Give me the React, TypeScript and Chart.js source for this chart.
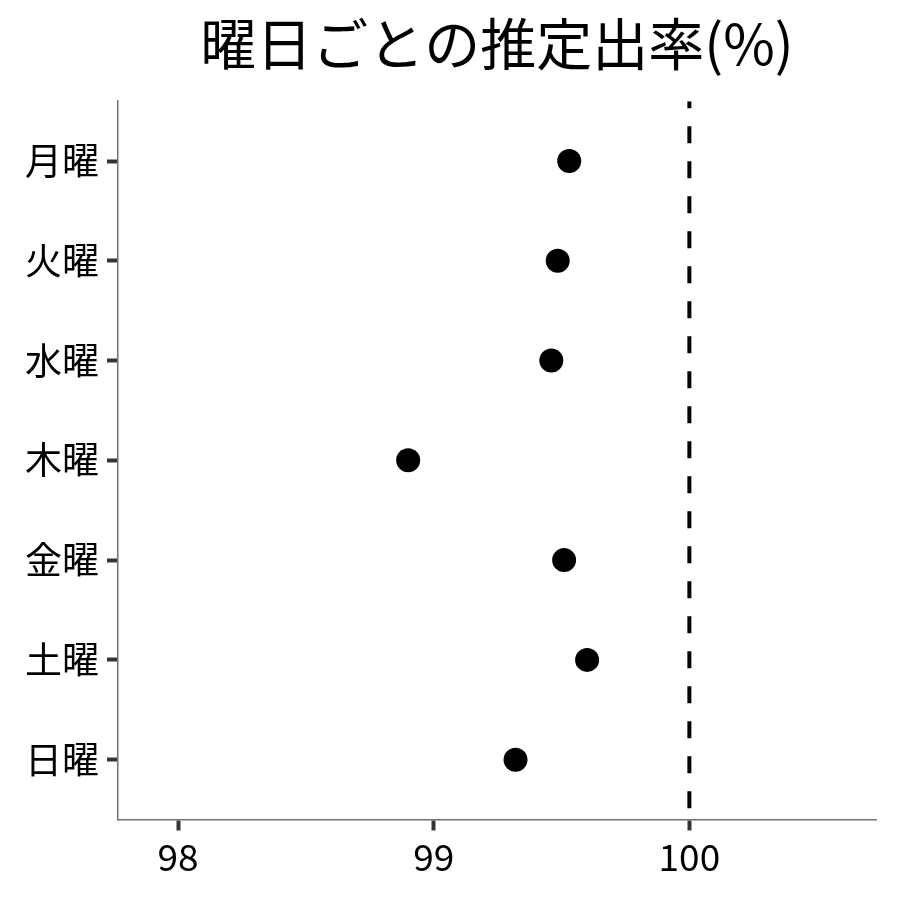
import React, { useEffect, useRef } from 'react';
import { Chart, registerables } from 'chart.js';

Chart.register(...registerables);

const TITLE = '曜日ごとの推定出率(%)';
const DAYS = ['月曜', '火曜', '水曜', '木曜', '金曜', '土曜', '日曜'];
const RATES = [99.53, 99.485, 99.46, 98.9, 99.51, 99.6, 99.32];
const X_TICKS = [98, 99, 100];
const REFERENCE = 100;
const X_MIN = 97.765;
const X_MAX = 100.73;
const Y_MIN = -0.6;
const Y_MAX = 6.6;

const FONT = "'Noto Sans CJK JP', 'Noto Sans', sans-serif";

const App: React.FC = () => {
  const chartRef = useRef<HTMLCanvasElement>(null);
  const chartInstance = useRef<Chart | null>(null);

  useEffect(() => {
    document.body.style.margin = '0';
    if (chartRef.current) {
      const ctx = chartRef.current.getContext('2d');
      if (ctx) {
        if (chartInstance.current) {
          chartInstance.current.destroy();
        }

        chartInstance.current = new Chart(ctx, {
          type: 'scatter',
          data: {
            datasets: [
              {
                data: RATES.map((v, i) => ({ x: v, y: i })),
                backgroundColor: '#000000',
                borderWidth: 0,
                pointRadius: 12,
                pointHoverRadius: 12
              },
              {
                type: 'line',
                data: [{ x: REFERENCE, y: Y_MIN }, { x: REFERENCE, y: Y_MAX }],
                borderColor: '#000000',
                borderWidth: 4,
                borderDash: [17, 18],
                borderDashOffset: 10,
                pointRadius: 0,
                fill: false
              } as any
            ]
          },
          options: {
            animation: false,
            responsive: true,
            maintainAspectRatio: false,
            layout: {
              padding: { left: 0, right: 24, top: 0, bottom: 0 }
            },
            plugins: {
              legend: { display: false },
              tooltip: { enabled: false },
              title: {
                display: true,
                text: TITLE,
                fullSize: false,
                color: '#000000',
                font: { family: FONT, size: 56, weight: 'normal', lineHeight: 1.2 },
                padding: { top: 10, bottom: 24 }
              }
            },
            scales: {
              x: {
                type: 'linear',
                min: X_MIN,
                max: X_MAX,
                afterBuildTicks: (scale: any) => {
                  scale.ticks = X_TICKS.map((v) => ({ value: v }));
                },
                afterFit: (scale: any) => {
                  scale.height = 80.5;
                },
                ticks: {
                  color: '#000000',
                  font: { family: FONT, size: 37 },
                  padding: 4,
                  maxRotation: 0
                },
                grid: {
                  drawOnChartArea: false,
                  drawTicks: true,
                  tickLength: 11,
                  tickColor: '#333333',
                  tickWidth: 4
                },
                border: { display: true, color: '#737373', width: 1.5 }
              },
              y: {
                type: 'linear',
                reverse: true,
                min: Y_MIN,
                max: Y_MAX,
                afterBuildTicks: (scale: any) => {
                  scale.ticks = DAYS.map((_, i) => ({ value: i }));
                },
                afterFit: (scale: any) => {
                  scale.width = 118;
                },
                ticks: {
                  color: '#000000',
                  font: { family: FONT, size: 37 },
                  padding: 8,
                  callback: (value: any) => DAYS[value as number]
                },
                grid: {
                  drawOnChartArea: false,
                  drawTicks: true,
                  tickLength: 11,
                  tickColor: '#333333',
                  tickWidth: 4
                },
                border: { display: true, color: '#737373', width: 1.5 }
              }
            }
          }
        });
      }
    }

    return () => {
      if (chartInstance.current) {
        chartInstance.current.destroy();
        chartInstance.current = null;
      }
    };
  }, []);

  return (
    <div style={{ width: '900px', height: '900px', position: 'relative' }}>
      <canvas ref={chartRef} />
    </div>
  );
};

export default App;
